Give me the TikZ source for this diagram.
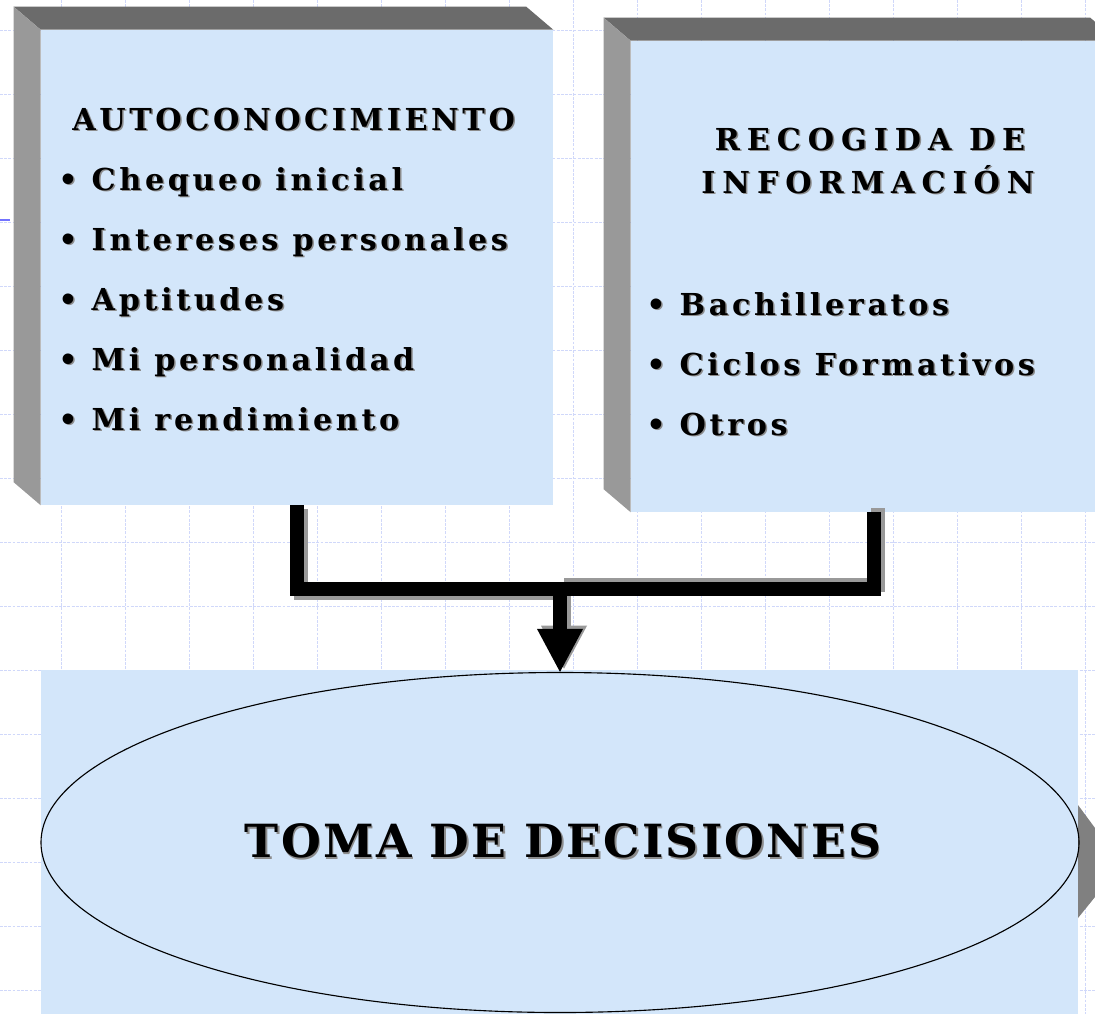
\documentclass[tikz,border=0pt]{standalone}
\usepackage{fontspec}
\setmainfont{DejaVu Serif}
\newfontfamily\boxfont[LetterSpace=12]{DejaVu Serif}
\usetikzlibrary{calc, backgrounds, positioning, fit, arrows.meta, shapes.geometric}

\definecolor{panel}{RGB}{211,230,250}
\definecolor{bevdark}{RGB}{107,107,107}
\definecolor{bevlight}{RGB}{153,153,153}
\definecolor{gridblue}{RGB}{208,216,250}
\definecolor{txtgray}{RGB}{140,140,140}

\newcommand{\itemfont}{\boxfont\bfseries\fontsize{21.5}{26}\selectfont}
\newcommand{\widefont}{\itemfont\addfontfeature{LetterSpace=23}}
\newcommand{\bigfont}{\boxfont\bfseries\fontsize{32.5}{38}\selectfont\addfontfeature{LetterSpace=5}}

\begin{document}
\begin{tikzpicture}[x=0.25mm, y=-0.25mm,
    face/.style={rectangle, fill=panel, inner sep=0pt},
    bevel top/.style={fill=bevdark},
    bevel side/.style={fill=bevlight},
    gridline/.style={gridblue, line width=0.4pt, dash pattern=on 2pt off 1pt},
    txt/.style={inner sep=0pt, font=\itemfont},
    txtshadow/.style={txt, text=txtgray},
    link/.style={line width=3.3mm, black},
    link shadow/.style={line width=3.3mm, bevlight},
    head/.style={-{Triangle[length=10.75mm, width=11.5mm, line width=0pt]}},
    oval/.style={draw=black, thick, ellipse, inner sep=0pt,
                 minimum width=259.5mm, minimum height=85mm}]
    \useasboundingbox (0,0) rectangle (1095,1014);
    \clip (0,0) rectangle (1095,1014);
    \fill[white] (0,0) rectangle (1095,1014);
    % grid of the slide
    \foreach \gx in {61,125,...,1085}
        \draw[gridline] (\gx,0) -- (\gx,1014);
    \foreach \gy in {30,94,...,990}
        \draw[gridline] (0,\gy) -- (1095,\gy);
    \draw[blue!55, line width=0.5mm] (0,220) -- (10,220);

    % panels
    \coordinate (k1) at (41,30);
    \coordinate (k2) at (553,505);
    \node (know) [face, fit=(k1)(k2)] {};
    \coordinate (i1) at (631,41);
    \coordinate (i2) at (1117,512);
    \node (info) [face, fit=(i1)(i2)] {};
    \coordinate (d1) at (41,670);
    \coordinate (d2) at (1078,1014);
    \node (base) [face, fit=(d1)(d2)] {};
    \foreach \b in {know, info} {
        \fill[bevel top] (\b.north west) -- ++(-27,-23) -- ([shift={(-27,-23)}]\b.north east) -- (\b.north east) -- cycle;
        \fill[bevel side] (\b.north west) -- ++(-27,-23) -- ([shift={(-27,-23)}]\b.south west) -- (\b.south west) -- cycle;
    }
    \fill[gray] (1078,805) -- (1095,828) -- (1095,897) -- (1078,918) -- cycle;

    % autoconocimiento
    \node[txtshadow, anchor=base west] at (73.5,131.5) {AUTOCONOCIMIENTO};
    \node[txt, anchor=base west] (selftitle) at (72,130) {AUTOCONOCIMIENTO};
    \foreach \t [count=\n] in {Chequeo inicial, Intereses personales, Aptitudes, Mi personalidad, Mi rendimiento} {
        \node[txtshadow, anchor=base west] at (59.5,131.5+60*\n) {• \t};
        \node[txt, anchor=base west] (self\n) at (58,130+60*\n) {• \t};
    }

    % recogida de informacion
    \node[txtshadow, anchor=base, font=\widefont] at (871.5,151.5) {RECOGIDA DE};
    \node[txt, anchor=base, font=\widefont] (infotitle1) at (870,150) {RECOGIDA DE};
    \node[txtshadow, anchor=base, font=\widefont] at (869.5,194.5) {INFORMACIÓN};
    \node[txt, anchor=base, font=\widefont] (infotitle2) at (868,193) {INFORMACIÓN};
    \foreach \t [count=\n] in {Bachilleratos, Ciclos Formativos, Otros} {
        \node[txtshadow, anchor=base west] at (647.5,256.5+60*\n) {• \t};
        \node[txt, anchor=base west] (opts\n) at (646,255+60*\n) {• \t};
    }

    % toma de decisiones
    \node[txtshadow, font=\bigfont] at (564.5,843) {TOMA DE DECISIONES};
    \node (oval) [oval] at (560,842.5) {};
    \node[txt, font=\bigfont] (decide) at (563,841) {TOMA DE DECISIONES};

    % connectors
    \coordinate (join) at (560,589);
    \draw[link shadow, transform canvas={shift={(1mm,-1mm)}}] (know.south) |- (join);
    \draw[link shadow, transform canvas={shift={(1mm,1mm)}}] (info.south) |- (join);
    \draw[link shadow, head, transform canvas={shift={(1mm,0.8mm)}}] (join) -- (oval.north);
    \draw[link] (know.south) |- (join);
    \draw[link] (info.south) |- (join);
    \draw[link, head] (join) -- (oval.north);
\end{tikzpicture}
\end{document}
